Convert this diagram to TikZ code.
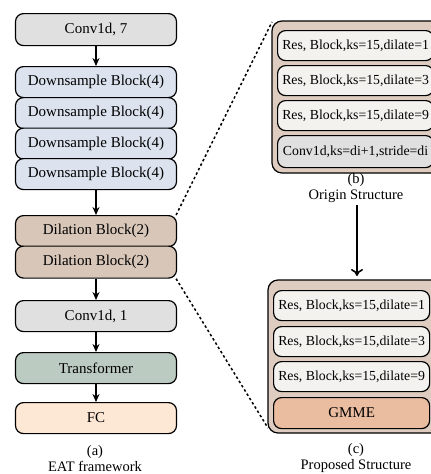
\documentclass[tikz,border=0pt]{standalone}
\usepackage{fontspec}
\setmainfont{Liberation Serif}
\usetikzlibrary{arrows.meta}
\definecolor{cgray}{HTML}{E0E0E0}
\definecolor{cblue}{HTML}{DCE3EE}
\definecolor{cdil}{HTML}{D8C6B8}
\definecolor{ctrans}{HTML}{BCCBC1}
\definecolor{cfc}{HTML}{FDE8D6}
\definecolor{couter}{HTML}{DDCCBF}
\definecolor{cres}{HTML}{F3F2EE}
\definecolor{cgmme}{HTML}{EABDA1}
\tikzset{
  blk/.style={draw=black, line width=1.2pt, rounded corners=8pt, minimum width=161pt, anchor=north, inner sep=0pt, font=\fontsize{15}{17}\selectfont},
  inblk/.style={draw=black, line width=1.2pt, rounded corners=8pt, minimum width=156pt, anchor=north west, inner sep=0pt, font=\fontsize{13.8}{16}\selectfont},
  outerbox/.style={draw=black, line width=1.2pt, rounded corners=10pt, fill=couter},
  arr/.style={-{Stealth[length=8pt,width=7pt]}, line width=1.3pt},
  dashln/.style={line width=1.5pt, dash pattern=on 2.5pt off 2.5pt},
  captxt/.style={font=\fontsize{14.5}{16}\selectfont, align=center}
}
\begin{document}
\begin{tikzpicture}[x=1pt,y=-1pt]
\useasboundingbox (0,0) rectangle (431,474);
\clip (0,0) rectangle (431,474);
% left column
\node[blk, fill=cgray, minimum height=32pt] (c7) at (96,13) {Conv1d, 7};
\node[blk, fill=cblue, minimum height=31pt] (d1) at (96,66) {Downsample Block(4)};
\node[blk, fill=cblue, minimum height=31pt] (d2) at (96,97) {Downsample Block(4)};
\node[blk, fill=cblue, minimum height=31pt] (d3) at (96,127.5) {Downsample Block(4)};
\node[blk, fill=cblue, minimum height=31pt] (d4) at (96,158) {Downsample Block(4)};
\node[blk, fill=cdil, minimum height=31pt] (b1) at (96,215) {Dilation Block(2)};
\node[blk, fill=cdil, minimum height=32pt] (b2) at (96,245.5) {Dilation Block(2)};
\node[blk, fill=cgray, minimum height=31pt] (c1) at (96,300) {Conv1d, 1};
\node[blk, fill=ctrans, minimum height=31pt] (tr) at (96,352) {Transformer};
\node[blk, fill=cfc, minimum height=31pt] (fc) at (96,402) {FC};
\node[captxt] (capa) at (95,459) {(a)\\EAT framework};
\draw[arr] (c7.south) -- (d1.north);
\draw[arr] (d4.south) -- (b1.north);
\draw[arr] (b2.south) -- (c1.north);
\draw[arr] (c1.south) -- (tr.north);
\draw[arr] (tr.south) -- (fc.north);
% (b)
\draw[outerbox] (272,21) rectangle (445,173);
\coordinate (bout) at (272,22);
\node[inblk, fill=cres, minimum height=30pt] (r1) at (277,30) {Res, Block,ks=15,dilate=1};
\node[inblk, fill=cres, minimum height=30pt] (r2) at (277,65) {Res, Block,ks=15,dilate=3};
\node[inblk, fill=cres, minimum height=30pt] (r3) at (277,100) {Res, Block,ks=15,dilate=9};
\node[inblk, fill=cgray, minimum height=32pt] (r4) at (277,135) {Conv1d,ks=di+1,stride=di};
\node[captxt] (capb) at (356,188) {(b)\\Origin Structure};
% (c)
\draw[outerbox] (268,280) rectangle (445,433);
\coordinate (cout) at (268,428);
\node[inblk, fill=cres, minimum height=30pt] (s1) at (273,290) {Res, Block,ks=15,dilate=1};
\node[inblk, fill=cres, minimum height=30pt] (s2) at (273,326) {Res, Block,ks=15,dilate=3};
\node[inblk, fill=cres, minimum height=30pt] (s3) at (273,361) {Res, Block,ks=15,dilate=9};
\node[inblk, fill=cgmme, minimum height=31pt, font=\fontsize{15}{17}\selectfont] (s4) at (273,397) {GMME};
\node[captxt] (capc) at (356,458) {(c)\\Proposed Structure};
\coordinate (ctop) at (357,276);
\coordinate (btop) at (357,205);
\draw[-{To[length=7pt,width=12pt]}, line width=1.6pt] (btop) -- (ctop);
% dashed connectors
\draw[dashln] (b1.north east) ++(-1,0) -- (bout);
\draw[dashln] (b2.south east) ++(-1,0) -- (cout);
\end{tikzpicture}
\end{document}
